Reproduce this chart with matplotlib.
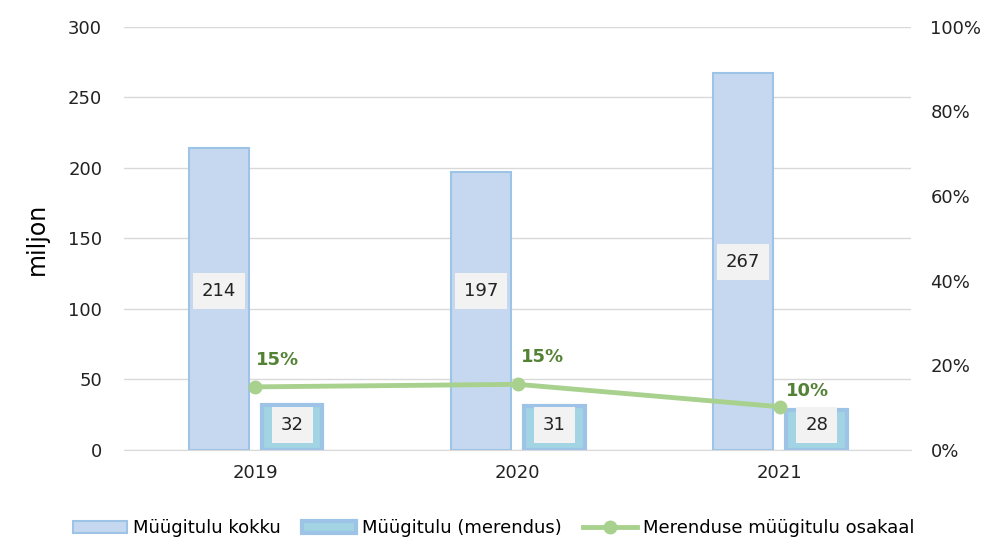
import matplotlib.pyplot as plt
import numpy as np
from matplotlib.ticker import PercentFormatter

# data
years = ['2019', '2020', '2021']
total = [214, 197, 267]
seafood = [32, 31, 28]
share = [14.9, 15.5, 10.2]
share_labels = ['15%', '15%', '10%']

# label placement (as in the original)
total_label_y = [113, 113, 133]
share_offsets = [(0, 13), (2, 13), (4, 5)]

x = np.arange(len(years))
w = 0.23

fig = plt.figure(figsize=(9.87, 5.48), dpi=100)
ax = fig.add_axes([0.126, 0.179, 0.797, 0.772])
ax2 = ax.twinx()

ax.set_axisbelow(True)
ax.yaxis.grid(True, color='#D9D9D9', linewidth=1)
b1 = ax.bar(x - 0.14, total, w, color='#C5D8F0', edgecolor='#9DC3E6', linewidth=1.5,
            label='Müügitulu kokku')
b2 = ax.bar(x + 0.14, seafood, w, color='#A2D4E4', edgecolor='#9DC3E6', linewidth=3,
            label='Müügitulu (merendus)')

for rect, v, ly in zip(b1, total, total_label_y):
    ax.text(rect.get_x() + rect.get_width() / 2, ly, str(v), ha='center', va='center',
            fontsize=13, color='#222222',
            bbox=dict(boxstyle='square,pad=0.5', fc='#F2F2F2', ec='none'))
for rect, v in zip(b2, seafood):
    ax.text(rect.get_x() + rect.get_width() / 2, 17.5, str(v), ha='center', va='center',
            fontsize=13, color='#222222',
            bbox=dict(boxstyle='square,pad=0.5', fc='#F2F2F2', ec='none'))

ax.set_xlim(-0.5, 2.5)
ax.set_ylim(0, 300)
ax.set_yticks(range(0, 301, 50))
ax.set_xticks(x)
ax.set_xticklabels(years)
ax.set_ylabel('miljon', fontsize=17, labelpad=14)

ln, = ax2.plot(x, share, color='#A9D18E', linewidth=3.5, marker='o', markersize=9,
               label='Merenduse müügitulu osakaal')
for xi, s, t, off in zip(x, share, share_labels, share_offsets):
    ax2.annotate(t, (xi, s), xytext=off, textcoords='offset points', fontsize=13,
                 fontweight='bold', color='#548235', ha='left', va='bottom')
ax2.set_ylim(0, 100)
ax2.set_yticks(range(0, 101, 20))
ax2.yaxis.set_major_formatter(PercentFormatter(decimals=0))

for a in (ax, ax2):
    for s in a.spines.values():
        s.set_visible(False)
    a.tick_params(length=0, labelsize=13, colors='#222222')
ax.spines['bottom'].set_visible(True)
ax.spines['bottom'].set_color('#D9D9D9')
ax.tick_params(axis='x', pad=10)
ax.tick_params(axis='y', pad=16)
ax2.tick_params(axis='y', pad=14)

fig.legend(handles=[b1, b2, ln], loc='lower center', ncol=3, frameon=False, fontsize=13,
           bbox_to_anchor=(0.5, -0.01), handlelength=3, handletextpad=0.3, columnspacing=1.2)

fig.savefig('out.png', dpi=100)
